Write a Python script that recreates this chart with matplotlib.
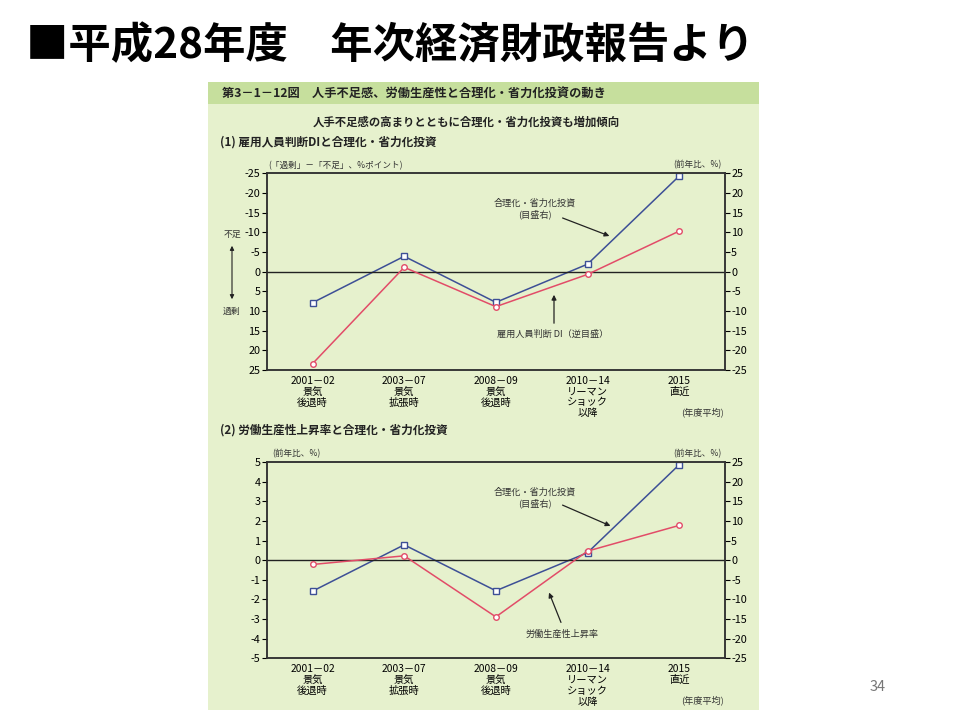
import matplotlib
matplotlib.use("Agg")
import matplotlib.pyplot as plt
from matplotlib.patches import Rectangle, FancyArrowPatch

plt.rcParams['font.family'] = ['Noto Sans CJK JP', 'DejaVu Sans']
plt.rcParams['axes.unicode_minus'] = False

# data
periods = ["2001－02\n景気\n後退時", "2003－07\n景気\n拡張時", "2008－09\n景気\n後退時",
           "2010－14\nリーマン\nショック\n以降", "2015\n直近"]
di = [23.4, -1.1, 8.9, 0.7, -10.3]              # 雇用人員判断DI (left, inverted)
invest = [-7.9, 3.9, -7.8, 1.9, 24.3]           # 合理化・省力化投資 (right)
productivity = [-0.22, 0.22, -2.89, 0.46, 1.77]  # 労働生産性上昇率 (left)

BLUE = "#3d4f96"
RED = "#e24c68"
PANEL = "#e6f1cd"
BAND = "#c6df9d"
W, H = 960, 720


def px(x, y):
    return x / W, 1 - y / H


fig = plt.figure(figsize=(9.6, 7.2), dpi=100)
fig.patch.set_facecolor("white")
fig.add_artist(Rectangle(px(208, 710), 551 / W, 628 / H, transform=fig.transFigure,
                         fc=PANEL, ec="none", zorder=0))
fig.add_artist(Rectangle(px(208, 104), 551 / W, 22 / H, transform=fig.transFigure,
                         fc=BAND, ec="none", zorder=0))

fig.text(*px(26, 46), "■平成28年度　年次経済財政報告より", fontsize=30.5, fontweight="bold",
         va="center", ha="left")
fig.text(*px(878, 687), "34", fontsize=10.5, color="#777777", ha="center", va="center")

fig.text(*px(222, 94), "第3－1－12図　人手不足感、労働生産性と合理化・省力化投資の動き",
         fontsize=8.8, fontweight="bold", va="center", color="#222222")
fig.text(*px(466, 122), "人手不足感の高まりとともに合理化・省力化投資も増加傾向",
         fontsize=8.2, fontweight="bold", ha="center", va="center", color="#222222")
fig.text(*px(220, 142), "(1) 雇用人員判断DIと合理化・省力化投資",
         fontsize=8.4, fontweight="bold", va="center", color="#222222")
fig.text(*px(220, 430), "(2) 労働生産性上昇率と合理化・省力化投資",
         fontsize=8.4, fontweight="bold", va="center", color="#222222")


def setup(ax, ax2, lticks, rticks):
    x = range(len(periods))
    ax.set_xlim(-0.5, 4.5)
    ax.set_xticks(list(x))
    ax.set_xticklabels(periods, fontsize=7.4, linespacing=1.12)
    ax.tick_params(axis="x", length=0, pad=4)
    ax.set_yticks(lticks)
    ax.tick_params(axis="y", direction="out", length=3.5, width=0.8, labelsize=7.8, pad=1)
    ax2.set_yticks(rticks)
    ax2.tick_params(axis="y", direction="out", length=3.5, width=0.8, labelsize=7.8, pad=1)
    for a in (ax, ax2):
        for sp in a.spines.values():
            sp.set_linewidth(1.1)
            sp.set_color("#333333")
    ax.axhline(0, color="#222222", lw=1.0, zorder=1)
    ax.set_zorder(ax2.get_zorder() + 1)
    ax.patch.set_visible(False)
    ax2.patch.set_facecolor("white")


# ---- panel (1)
ax1 = fig.add_axes([266.7 / W, 1 - 370 / H, 458.3 / W, 196.7 / H])
ax1b = ax1.twinx()
x = list(range(len(periods)))
ax1b.plot(x, invest, "-s", color=BLUE, lw=1.1, ms=4, mfc="white", mew=1.0)
ax1.plot(x, di, "-o", color=RED, lw=1.1, ms=4, mfc="white", mew=1.0)
ax1.set_ylim(25, -25)
ax1b.set_ylim(-25, 25)
setup(ax1, ax1b, range(-25, 30, 5), range(-25, 30, 5))

fig.text(*px(268, 166), "(「過剰」－「不足」、%ポイント)", fontsize=6.2, va="center", color="#333333")
fig.text(*px(722, 165), "(前年比、%)", fontsize=6.2, va="center", ha="right", color="#333333")
fig.text(*px(232, 234), "不足", fontsize=6.4, ha="center", va="center", color="#333333")
fig.text(*px(232, 311), "過剰", fontsize=6.4, ha="center", va="center", color="#333333")
fig.add_artist(FancyArrowPatch(px(232, 243), px(232, 302), transform=fig.transFigure,
                               arrowstyle="<|-|>", mutation_scale=6, color="#222222", lw=0.8))
fig.text(*px(535, 209), "合理化・省力化投資\n(目盛右)", fontsize=6.6, ha="center", va="center",
         linespacing=1.3, color="#333333")
fig.add_artist(FancyArrowPatch(px(560, 217), px(612, 237), transform=fig.transFigure,
                               arrowstyle="-|>", mutation_scale=7, color="#222222", lw=0.9))
fig.text(*px(553, 334), "雇用人員判断 DI（逆目盛）", fontsize=6.6, ha="center", va="center",
         color="#333333")
fig.add_artist(FancyArrowPatch(px(554, 326), px(554, 292), transform=fig.transFigure,
                               arrowstyle="-|>", mutation_scale=7, color="#222222", lw=0.9))
fig.text(*px(702, 412), "(年度平均)", fontsize=6.6, ha="center", va="center", color="#333333")

# ---- panel (2)
ax2 = fig.add_axes([266.7 / W, 1 - 658.3 / H, 458.3 / W, 196.3 / H])
ax2b = ax2.twinx()
ax2b.plot(x, invest, "-s", color=BLUE, lw=1.1, ms=4, mfc="white", mew=1.0)
ax2.plot(x, productivity, "-o", color=RED, lw=1.1, ms=4, mfc="white", mew=1.0)
ax2.set_ylim(-5, 5)
ax2b.set_ylim(-25, 25)
setup(ax2, ax2b, range(-5, 6), range(-25, 30, 5))

fig.text(*px(272, 454), "(前年比、%)", fontsize=6.2, va="center", color="#333333")
fig.text(*px(722, 454), "(前年比、%)", fontsize=6.2, va="center", ha="right", color="#333333")
fig.text(*px(535, 498), "合理化・省力化投資\n(目盛右)", fontsize=6.6, ha="center", va="center",
         linespacing=1.3, color="#333333")
fig.add_artist(FancyArrowPatch(px(560, 504), px(613, 527), transform=fig.transFigure,
                               arrowstyle="-|>", mutation_scale=7, color="#222222", lw=0.9))
fig.text(*px(562, 634), "労働生産性上昇率", fontsize=6.6, ha="center", va="center",
         color="#333333")
fig.add_artist(FancyArrowPatch(px(562, 625), px(548, 590), transform=fig.transFigure,
                               arrowstyle="-|>", mutation_scale=7, color="#222222", lw=0.9))
fig.text(*px(702, 700), "(年度平均)", fontsize=6.6, ha="center", va="center", color="#333333")

fig.savefig("out.png", dpi=100)
